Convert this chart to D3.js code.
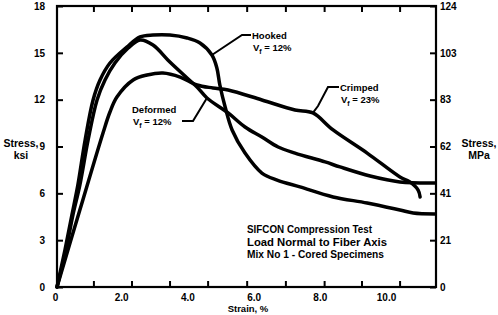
<!DOCTYPE html>
<html>
<head>
<meta charset="utf-8">
<script src="https://cdn.jsdelivr.net/npm/d3@7"></script>
<style>
  html, body { margin: 0; padding: 0; background: #fff; }
  svg { display: block; }
  text { font-family: "Liberation Sans", Arial, Helvetica, sans-serif; font-weight: bold; fill: #000; }
</style>
</head>
<body>
<svg id="chart" width="498" height="315"></svg>
<script>
// ---- data (strain %, stress ksi) ----
const hookedStrain   = [0, 0.24, 0.45, 0.63, 0.85, 1.09, 1.30, 1.60, 2.11, 2.51, 2.90, 3.41, 3.93, 4.32, 4.68, 4.83, 4.92, 5.08, 5.29, 5.68, 6.19, 6.65, 7.34, 8.34, 9.37, 10.36, 10.76, 11.42];
const hookedStress   = [0, 2.37, 4.61, 6.53, 9.42, 11.98, 13.26, 14.35, 15.37, 16.02, 16.14, 16.14, 15.95, 15.63, 14.86, 14.03, 12.94, 11.53, 10.06, 8.58, 7.30, 6.85, 6.41, 5.77, 5.38, 4.93, 4.74, 4.68];
const deformedStrain = [0, 0.27, 0.48, 0.69, 0.94, 1.21, 1.45, 1.75, 2.15, 2.51, 2.90, 3.41, 3.93, 4.23, 4.53, 5.17, 5.68, 6.19, 6.68, 7.19, 8.10, 8.55, 9.46, 10.36, 11.42];
const deformedStress = [0, 2.37, 4.61, 6.53, 9.42, 11.98, 13.26, 14.35, 15.31, 15.82, 15.50, 14.41, 13.39, 12.81, 12.11, 11.15, 10.25, 9.61, 8.97, 8.58, 8.01, 7.69, 7.11, 6.73, 6.66];
const crimpedStrain  = [0, 0.69, 1.39, 1.60, 1.81, 2.30, 2.72, 3.20, 3.72, 4.23, 4.71, 5.17, 6.19, 7.19, 7.73, 8.34, 9.37, 10.36, 10.66, 10.91, 10.97];
const crimpedStress  = [0, 4.93, 9.87, 11.21, 12.17, 13.26, 13.58, 13.71, 13.45, 12.94, 12.75, 12.62, 11.98, 11.34, 11.15, 10.06, 8.58, 7.05, 6.73, 6.21, 5.77];

const ksiTicks      = [0, 3, 6, 9, 12, 15, 18];
const mpaTickLabels = ["0", "21", "41", "62", "83", "103", "124"];
const strainLabelTicks = [0, 2, 4, 6, 8, 10];
const strainLabels     = ["0", "2.0", "4.0", "6.0", "8.0", "10.0"];
const strainMarkTicks  = [1.1, 2.25, 3.4, 4.55, 5.73, 6.9, 8.07, 9.2, 10.35];

const noteLines = ["SIFCON Compression Test", "Load Normal to Fiber Axis", "Mix No 1 - Cored Specimens"];
const noteWidths = [125, 140, 137];

// ---- layout ----
const svg = d3.select("#chart");
const X0 = 57, X1 = 436, Y0 = 287, Y1 = 6;
const x = d3.scaleLinear().domain([0, 11.45]).range([X0, X1]);
const y = d3.scaleLinear().domain([0, 18]).range([Y0, Y1]);

// frame
svg.append("rect")
  .attr("x", X0).attr("y", Y1).attr("width", X1 - X0).attr("height", Y0 - Y1)
  .attr("fill", "none").attr("stroke", "#000").attr("stroke-width", 2.2);

function styleAxis(g) {
  g.select(".domain").remove();
  g.selectAll(".tick line").attr("stroke", "#000").attr("stroke-width", 2);
  g.selectAll("text").style("font-size", "10px").style("font-family", "Liberation Sans, Arial, sans-serif").style("font-weight", "bold");
}

// left axis
svg.append("g").attr("transform", `translate(${X0},0)`)
  .call(d3.axisLeft(y).tickValues(ksiTicks).tickSize(-6).tickPadding(12).tickFormat(d => d))
  .call(styleAxis);

// right axis
svg.append("g").attr("transform", `translate(${X1},0)`)
  .call(d3.axisRight(y).tickValues(ksiTicks).tickSize(-6).tickPadding(4).tickFormat((d, i) => mpaTickLabels[i]))
  .call(styleAxis);

// bottom tick marks
svg.append("g").attr("transform", `translate(0,${Y0})`)
  .call(d3.axisBottom(x).tickValues(strainMarkTicks).tickSize(-6).tickFormat(""))
  .call(styleAxis);
// top tick marks
svg.append("g").attr("transform", `translate(0,${Y1})`)
  .call(d3.axisTop(x).tickValues(strainMarkTicks).tickSize(-6).tickFormat(""))
  .call(styleAxis);
// bottom labels
svg.append("g").attr("transform", `translate(-2,${Y0})`)
  .call(d3.axisBottom(x).tickValues(strainLabelTicks).tickSize(0).tickPadding(7).tickFormat((d, i) => strainLabels[i]))
  .call(styleAxis);

// axis titles
svg.append("text").attr("x", 21).attr("y", 147).attr("text-anchor", "middle").style("font-size", "10.5px").text("Stress,");
svg.append("text").attr("x", 21).attr("y", 159).attr("text-anchor", "middle").style("font-size", "10.5px").text("ksi");
svg.append("text").attr("x", 479).attr("y", 147).attr("text-anchor", "middle").style("font-size", "10.5px").text("Stress,");
svg.append("text").attr("x", 479).attr("y", 159).attr("text-anchor", "middle").style("font-size", "10.5px").text("MPa");
svg.append("text").attr("x", 248).attr("y", 312).attr("text-anchor", "middle").style("font-size", "9.5px").text("Strain, %");

// curves
const line = d3.line().x(d => x(d[0])).y(d => y(d[1])).curve(d3.curveCatmullRom.alpha(0.5));
const series = [
  [hookedStrain, hookedStress],
  [deformedStrain, deformedStress],
  [crimpedStrain, crimpedStress]
];
series.forEach(([xs, ys]) => {
  svg.append("path")
    .datum(xs.map((v, i) => [v, ys[i]]))
    .attr("d", line)
    .attr("fill", "none").attr("stroke", "#000").attr("stroke-width", 3.5)
    .attr("stroke-linejoin", "round").attr("stroke-linecap", "round");
});

// leader lines
function leader(pts) {
  svg.append("polyline")
    .attr("points", pts.map(p => p.join(",")).join(" "))
    .attr("fill", "none").attr("stroke", "#000").attr("stroke-width", 2);
}
leader([[x(4.68), y(14.86)], [242, 35], [251, 35]]);
leader([[x(7.73), y(11.15)], [318, 106], [328, 87], [339, 87]]);
leader([[182, 121], [193, 121], [x(4.53), y(12.11)]]);

function label(x0, yb, name, vf) {
  svg.append("text").attr("x", x0).attr("y", yb).style("font-size", "9.5px").text(name);
  const t = svg.append("text").attr("x", x0 + 1).attr("y", yb + 12).style("font-size", "9.5px");
  t.append("tspan").text("V");
  t.append("tspan").attr("dy", 3).style("font-size", "7px").text("f");
  t.append("tspan").attr("dy", -3).text(" = " + vf);
}
label(252, 39, "Hooked", "12%");
label(340, 91, "Crimped", "23%");
label(132, 113, "Deformed", "12%");

// note block
noteLines.forEach((s, i) => {
  svg.append("text").attr("x", 247).attr("y", 233 + i * 12.5)
    .style("font-size", "10px")
    .attr("textLength", noteWidths[i]).attr("lengthAdjust", "spacingAndGlyphs")
    .text(s);
});
</script>
</body>
</html>
